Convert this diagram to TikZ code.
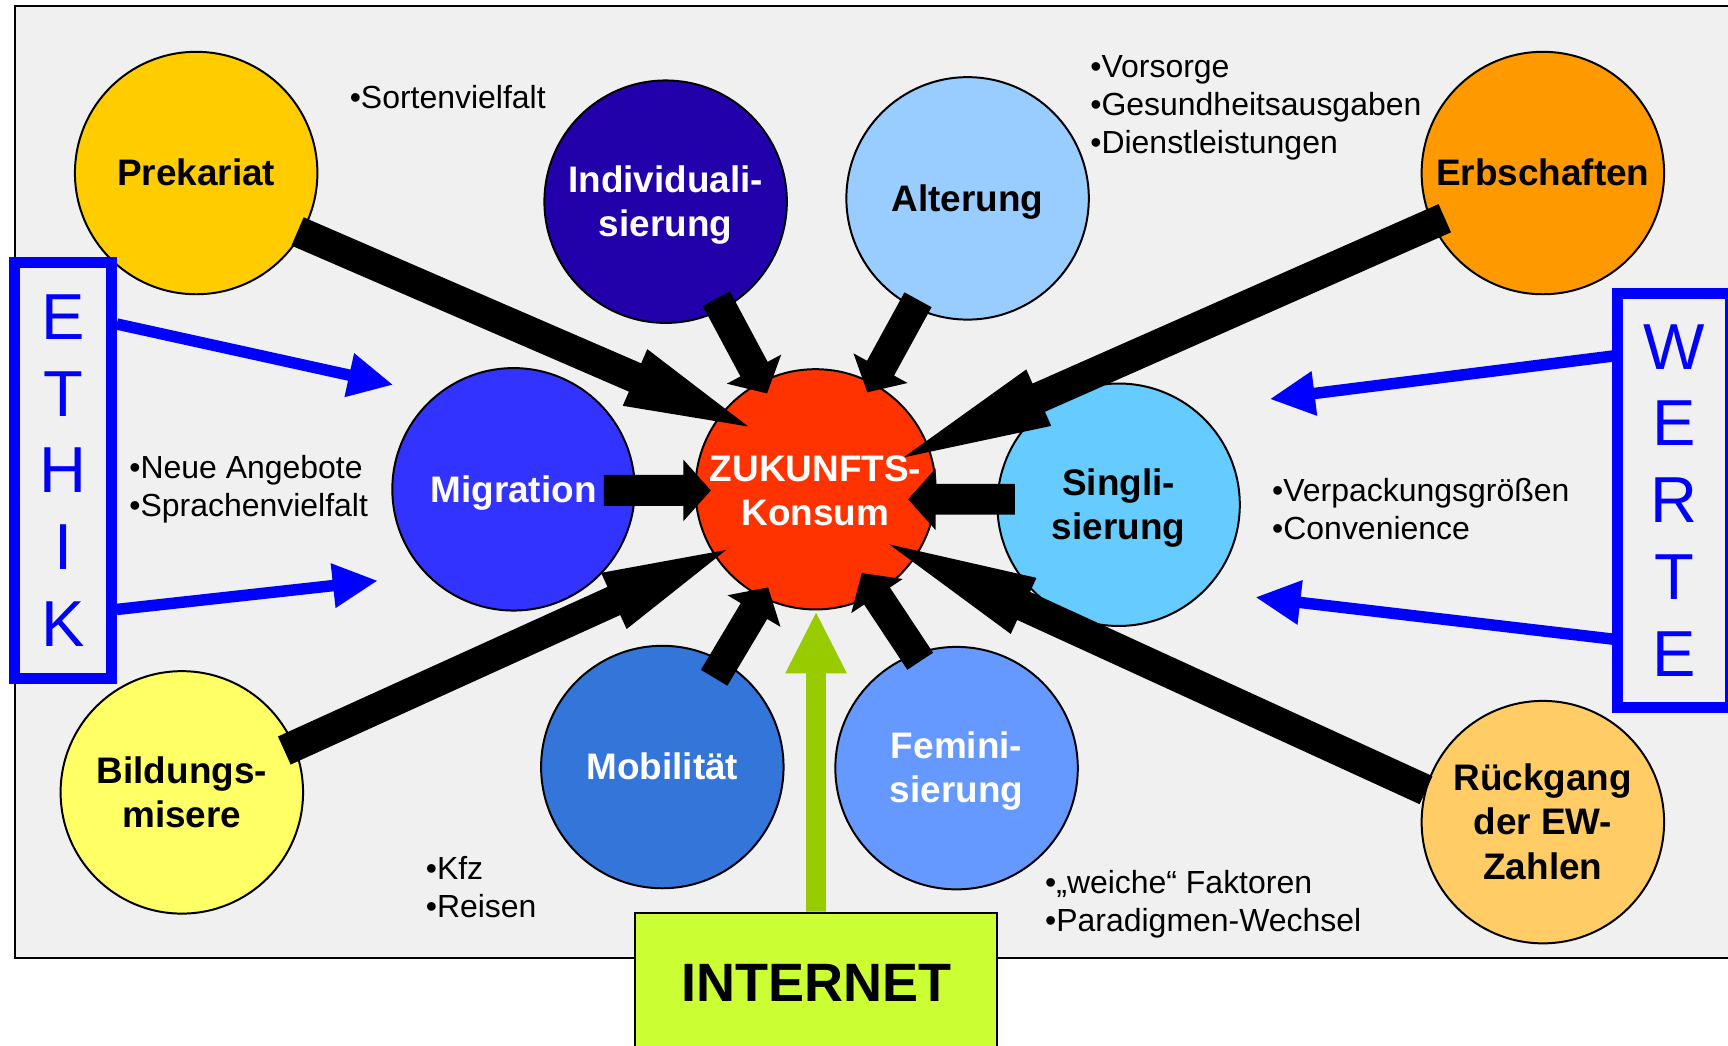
\documentclass[tikz,border=0pt]{standalone}
\usepackage{fontspec}
\setmainfont{Liberation Sans}
\usetikzlibrary{calc}

\definecolor{bggray}{HTML}{F0F0F0}
\definecolor{valblue}{HTML}{0000FF}
\definecolor{netgreen}{HTML}{CCFF33}
\definecolor{arrowgreen}{HTML}{99CC00}
\definecolor{cPrek}{HTML}{FFCC00}
\definecolor{cIndiv}{HTML}{2200AA}
\definecolor{cAlter}{HTML}{99CCFF}
\definecolor{cErb}{HTML}{FF9900}
\definecolor{cMigr}{HTML}{3333FF}
\definecolor{cKons}{HTML}{FF3300}
\definecolor{cSingl}{HTML}{66CCFF}
\definecolor{cBild}{HTML}{FFFF66}
\definecolor{cMob}{HTML}{3375D9}
\definecolor{cFemi}{HTML}{6699FF}
\definecolor{cRueck}{HTML}{FFCC66}

\newcommand{\circlabelfont}{\fontsize{16.75pt}{20pt}\selectfont\bfseries}
\newcommand{\notefont}{\fontsize{14.5pt}{17.25pt}\selectfont}
\newcommand{\valfont}{\fontsize{29.5pt}{34.85pt}\selectfont}
\newcommand{\netfont}{\fontsize{24.5pt}{28pt}\selectfont\bfseries}
% fixed line box (ascent + descent) so every label is centred the same way
\newcommand{\lstrut}{\rule[-0.212em]{0pt}{1.117em}}

% block arrow: #1 tail, #2 tip, #3 half shaft width, #4 half head width,
% #5 head length, #6 fill options
\newcommand{\blockarrow}[6]{%
  \coordinate (#2-b) at ($(#2)!#5!(#1)$);
  \fill[#6] ($(#1)!#3!90:(#2)$) -- ($(#2-b)!#3!-90:(#1)$)
    -- ($(#2-b)!#4!-90:(#1)$) -- (#2) -- ($(#2-b)!#4!90:(#1)$)
    -- ($(#2-b)!#3!90:(#1)$) -- ($(#1)!#3!-90:(#2)$) -- cycle;
}

\begin{document}
\begin{tikzpicture}[x=0.5pt,y=-0.5pt,
  struts/.style={execute at begin node=\lstrut, execute at end node=\lstrut},
  ball/.style={circle, draw=black, line width=0.9pt, minimum size=110pt,
    inner sep=0pt, align=center, font=\circlabelfont, struts},
  notes/.style={anchor=west, inner sep=0pt, align=left, font=\notefont, struts},
  valbox/.style={draw=valblue, line width=5pt, inner sep=0pt, align=center,
    text=valblue, font=\valfont},
  netbox/.style={draw=black, line width=0.9pt, fill=netgreen, inner sep=0pt,
    minimum width=164.5pt, minimum height=64pt, font=\netfont}]

\useasboundingbox (0,0) rectangle (1568,949);
\clip (0,0) rectangle (1568,949);
\fill[white] (0,0) rectangle (1568,949);

% background panel
\draw[fill=bggray, line width=0.9pt] (14,5) rectangle (1590,869);

% factor circles
\node[ball, fill=cPrek] (prek) at (178,157) {Prekariat};
\node[ball, fill=cIndiv, text=white] (indiv) at (604,183) {\lstrut Individuali-\\sierung};
\node[ball, fill=cAlter] (alter) at (878,180) {Alterung};
\node[ball, fill=cErb] (erb) at (1400,157) {Erbschaften};
\node[ball, fill=cMigr, text=white] (migr) at (466,444) {Migration};
\node[ball, fill=cKons, minimum size=109pt] (konsum) at (740,444) {};
\node[ball, fill=cSingl] (singl) at (1015,458) {\lstrut Singli-\\sierung};
\node[ball, fill=cBild] (bild) at (165,719) {\lstrut Bildungs-\\misere};
\node[ball, fill=cMob, text=white] (mob) at (601,696) {Mobilität};
\node[ball, fill=cFemi, text=white] (femi) at (868,697) {\lstrut Femini-\\sierung};
\node[ball, fill=cRueck] (rueck) at (1400,746) {\lstrut Rückgang\\der EW-\\Zahlen};

% notes
\node[notes] (n-sorten) at (317,88.4) {•Sortenvielfalt};
\node[notes] (n-alter) at (989,97.5) {•Vorsorge\\•Gesundheitsausgaben\\•Dienstleistungen};
\node[notes] (n-migr) at (117,443.6) {•Neue Angebote\\•Sprachenvielfalt};
\node[notes] (n-singl) at (1154,464.6) {•Verpackungsgrößen\\•Convenience};
\node[notes] (n-mob) at (386,807.6) {•Kfz\\•Reisen};
\node[notes] (n-femi) at (948,820.6) {•„weiche“ Faktoren\\•Paradigmen-Wechsel};

% arrow end points
\coordinate (pk-t) at (270,210);  \coordinate (pk-p) at (679,387);
\coordinate (in-t) at (650,271);  \coordinate (in-p) at (696,357);
\coordinate (al-t) at (833,272);  \coordinate (al-p) at (787,356);
\coordinate (er-t) at (1311,198); \coordinate (er-p) at (820,415);
\coordinate (mi-t) at (548,445);  \coordinate (mi-p) at (645,445);
\coordinate (si-t) at (921,453);  \coordinate (si-p) at (824,453);
\coordinate (bi-t) at (258,681);  \coordinate (bi-p) at (659,499);
\coordinate (mo-t) at (648,615);  \coordinate (mo-p) at (697,533);
\coordinate (fe-t) at (835,600);  \coordinate (fe-p) at (782,520);
\coordinate (rk-t) at (1294,717); \coordinate (rk-p) at (807,494);

% black arrows into the centre
\blockarrow{pk-t}{pk-p}{7pt}{14pt}{56pt}{black}
\blockarrow{in-t}{in-p}{7pt}{14pt}{12.5pt}{black}
\blockarrow{al-t}{al-p}{7pt}{14pt}{12.5pt}{black}
\blockarrow{er-t}{er-p}{7pt}{14pt}{67pt}{black}
\blockarrow{mi-t}{mi-p}{7pt}{14pt}{12.5pt}{black}
\blockarrow{si-t}{si-p}{7pt}{14pt}{12.5pt}{black}
\blockarrow{bi-t}{bi-p}{7pt}{14pt}{56pt}{black}
\blockarrow{mo-t}{mo-p}{7pt}{14pt}{12.5pt}{black}
\blockarrow{fe-t}{fe-p}{7pt}{14pt}{12.5pt}{black}
\blockarrow{rk-t}{rk-p}{7pt}{14pt}{67pt}{black}

\node[font=\circlabelfont, text=white, align=center, inner sep=0pt, struts]
  (konsumlabel) at (740,448.5) {ZUKUNFTS-\\Konsum};

% value boxes and their arrows
\node[valbox, minimum width=43.75pt, minimum height=188.5pt] (ethik) at (57.25,427) {E\\T\\H\\I\\K};
\node[valbox, minimum width=51pt, minimum height=188pt] (werte) at (1519,454) {W\\E\\R\\T\\E};

\coordinate (e1-t) at (106,294);  \coordinate (e1-p) at (356,349);
\coordinate (e2-t) at (106,553);  \coordinate (e2-p) at (342,527);
\coordinate (w1-t) at (1464,323); \coordinate (w1-p) at (1153,362);
\coordinate (w2-t) at (1464,580); \coordinate (w2-p) at (1140,542);
\blockarrow{e1-t}{e1-p}{2.6pt}{10.25pt}{20pt}{valblue}
\blockarrow{e2-t}{e2-p}{2.6pt}{10.25pt}{20pt}{valblue}
\blockarrow{w1-t}{w1-p}{2.6pt}{10.25pt}{20pt}{valblue}
\blockarrow{w2-t}{w2-p}{2.6pt}{10.25pt}{20pt}{valblue}

% internet box and its arrow
\node[netbox] (internet) at (740.5,892) {INTERNET};
\coordinate (net-p) at (740.5,556);
\blockarrow{internet.north}{net-p}{4.5pt}{14pt}{27.5pt}{arrowgreen}

\end{tikzpicture}
\end{document}
